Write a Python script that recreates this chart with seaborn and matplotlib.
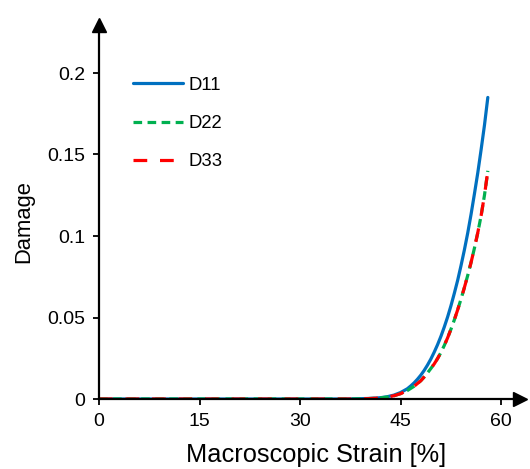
import numpy as np
import pandas as pd
import matplotlib
matplotlib.use("Agg")
import matplotlib.pyplot as plt
import seaborn as sns

# ---- data ----
strain_d11 = [0, 10, 20, 30, 36, 38, 40, 41, 42, 43, 44, 45, 46, 46.5, 47, 47.5, 48, 48.5, 49, 49.5,
              50, 50.5, 51, 51.5, 52, 52.5, 53, 53.5, 54, 54.5, 55, 55.5, 56, 56.5, 57, 57.5, 58]
damage_d11 = [0, 0, 0, 0, 0, 0.0001, 0.0003, 0.0005, 0.0008, 0.0014, 0.0024, 0.0040, 0.0063, 0.0080,
              0.0099, 0.0121, 0.0146, 0.0175, 0.0208, 0.0245, 0.0287, 0.0333, 0.0384, 0.0441, 0.0503,
              0.0572, 0.0648, 0.0728, 0.0818, 0.0914, 0.1018, 0.1133, 0.1258, 0.1387, 0.1530,
              0.1680, 0.1850]

strain_d22 = [0, 10, 20, 30, 36, 38, 40, 41, 42, 43, 44, 45, 46, 47, 48, 48.5, 49, 49.5, 50, 50.5,
              51, 51.5, 52, 52.5, 53, 53.5, 54, 54.5, 55, 55.5, 56, 56.5, 57, 57.5, 58]
damage_d22 = [0, 0, 0, 0, 0, 0, 0.0002, 0.0004, 0.0007, 0.0012, 0.0020, 0.0033, 0.0052, 0.0078,
              0.0112, 0.0135, 0.0160, 0.0187, 0.0215, 0.0248, 0.0285, 0.0328, 0.0375, 0.0428,
              0.0485, 0.0547, 0.0613, 0.0683, 0.0758, 0.0838, 0.0925, 0.1020, 0.1125, 0.1250, 0.1400]

strain_d33 = [0, 10, 20, 30, 36, 38, 40, 41, 42, 43, 44, 45, 46, 47, 48, 48.5, 49, 49.5, 50, 50.5,
              51, 51.5, 52, 52.5, 53, 53.5, 54, 54.5, 55, 55.5, 56, 56.5, 57, 57.5, 58]
damage_d33 = [0, 0, 0, 0, 0, 0, 0.0002, 0.0004, 0.0007, 0.0012, 0.0020, 0.0033, 0.0052, 0.0078,
              0.0112, 0.0135, 0.0160, 0.0187, 0.0215, 0.0248, 0.0285, 0.0328, 0.0375, 0.0428,
              0.0485, 0.0547, 0.0613, 0.0683, 0.0758, 0.0838, 0.0925, 0.1020, 0.1125, 0.1250, 0.1400]

series_names = ["D11", "D22", "D33"]
x_ticks = [0, 15, 30, 45, 60]
x_tick_labels = ["0", "15", "30", "45", "60"]
y_ticks = [0, 0.05, 0.1, 0.15, 0.2]
y_tick_labels = ["0", "0.05", "0.1", "0.15", "0.2"]

df = pd.concat([
    pd.DataFrame({"strain": strain_d11, "damage": damage_d11, "series": "D11"}),
    pd.DataFrame({"strain": strain_d22, "damage": damage_d22, "series": "D22"}),
    pd.DataFrame({"strain": strain_d33, "damage": damage_d33, "series": "D33"}),
], ignore_index=True)

sns.set_style("ticks")
plt.rcParams["font.family"] = ["Liberation Sans", "DejaVu Sans"]
plt.rcParams["text.color"] = "black"
plt.rcParams["axes.labelcolor"] = "black"

fig = plt.figure(figsize=(5.30, 4.69), dpi=100)
ax = fig.add_axes([99 / 530, 70 / 469, (520 - 99) / 530, (399 - 25) / 469])

palette = {"D11": "#0070C0", "D22": "#00B050", "D33": "#FF0000"}
dashes = {"D11": "", "D22": (2.7, 1.7), "D33": (4.3, 4.0)}

sns.lineplot(data=df, x="strain", y="damage", hue="series", style="series",
             hue_order=series_names, style_order=series_names,
             palette=palette, dashes=dashes, linewidth=2.3, ax=ax,
             estimator=None, sort=False)

ax.set_xlim(0, 62.8)
ax.set_ylim(0, (399 - 25) / 1630)
ax.set_xticks(x_ticks)
ax.set_xticklabels(x_tick_labels)
ax.set_yticks(y_ticks)
ax.set_yticklabels(y_tick_labels)

for s in ["top", "right"]:
    ax.spines[s].set_visible(False)
for s in ["left", "bottom"]:
    ax.spines[s].set_linewidth(1.6)
    ax.spines[s].set_color("black")
ax.tick_params(axis="both", direction="out", length=4, width=1.3, colors="black",
               labelsize=14, pad=6)

# arrow heads
ax.plot([1], [0], marker=">", color="black", markersize=10, transform=ax.transAxes, clip_on=False)
ax.plot([0], [1], marker="^", color="black", markersize=10, transform=ax.transAxes, clip_on=False)

ax.set_xlabel("Macroscopic Strain [%]", fontsize=18.3, color="black")
ax.set_ylabel("Damage", fontsize=15.8, color="black")
ax.xaxis.set_label_coords((316.5 - 99) / 421, -(455 - 399) / 374, transform=ax.transAxes)
ax.xaxis.label.set_va("center")
ax.yaxis.set_label_coords(-(99 - 24) / 421, (399 - 222) / 374, transform=ax.transAxes)
ax.yaxis.label.set_va("center")

leg = ax.legend(loc="upper left", bbox_to_anchor=(0.064, 0.881), frameon=False, fontsize=13.3,
                handlelength=2.7, handletextpad=0.28, labelspacing=1.15, title=None,
                borderaxespad=0.0)
for line in leg.get_lines():
    line.set_linewidth(2.3)
for t in leg.get_texts():
    t.set_color("black")

fig.savefig("out.png", dpi=100)
